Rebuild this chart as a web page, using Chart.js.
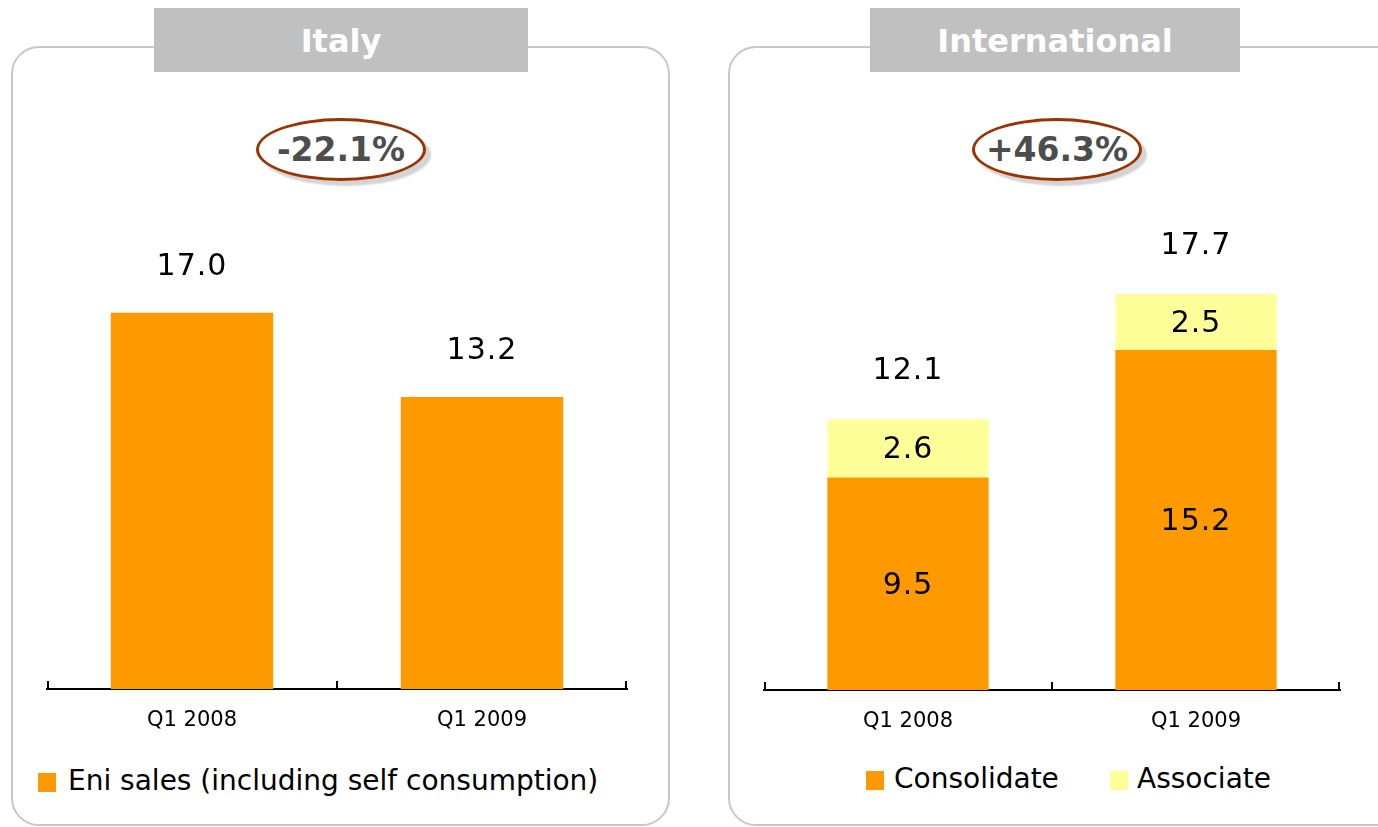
<!DOCTYPE html>
<html>
<head>
<meta charset="utf-8">
<title>Gas sales Q1</title>
<script src="https://cdn.jsdelivr.net/npm/chart.js@4/dist/chart.umd.min.js"></script>
<style>
    body { margin: 0; width: 1378px; height: 827px; overflow: hidden; background: #fff; font-family: "DejaVu Sans", sans-serif; position: relative; }
    .panel { position: absolute; border: 2px solid #c8c8c8; border-radius: 28px; box-sizing: border-box; }
    .title { position: absolute; top: 8px; height: 64px; background: #c0c0c0; color: #fff; font-weight: bold; font-size: 32px; line-height: 66px; text-align: center; }
    .change { position: absolute; top: 118px; width: 170px; height: 63px; border: 3px solid #993300; border-radius: 50%; box-sizing: border-box; background: #fff; box-shadow: 5px 5px 2px #d4d4d4; color: #4d4d4d; font-weight: bold; font-size: 33px; line-height: 58px; text-align: center; }
    .key { position: absolute; font-size: 28px; color: #000; white-space: nowrap; line-height: 34px; }
    .swatch { position: absolute; width: 18px; height: 19px; }
    canvas { position: absolute; top: 200px; }
</style>
</head>
<body>
<div class="panel" style="left:11px; top:46px; width:659px; height:780px;"></div>
<div class="panel" style="left:728px; top:46px; width:700px; height:780px;"></div>

<div class="title" style="left:154px; width:374px;">Italy</div>
<div class="title" style="left:870px; width:370px;">International</div>

<div class="change" id="italyChange" style="left:256px;"></div>
<div class="change" id="intlChange" style="left:972px;"></div>

<canvas id="italyChart" width="584" height="539" style="left:45px;"></canvas>
<canvas id="intlChart" width="580" height="540" style="left:762px;"></canvas>

<div class="swatch" style="left:38px; top:773px; background:#FF9900;"></div>
<div class="key" style="left:68px; top:764px;">Eni sales (including self consumption)</div>
<div class="swatch" style="left:866px; top:771px; background:#FF9900;"></div>
<div class="key" style="left:894px; top:762px;">Consolidate</div>
<div class="swatch" style="left:1110px; top:771px; background:#FFFF99;"></div>
<div class="key" style="left:1137px; top:762px;">Associate</div>

<script>
const quarters = ["Q1 2008", "Q1 2009"];
const italySales = [17.0, 13.2];
const intlConsolidate = [9.5, 15.2];
const intlAssociate = [2.6, 2.5];
const italyChange = "-22.1%";
const intlChange = "+46.3%";

const ORANGE = "#FF9900";
const YELLOW = "#FFFF99";

document.getElementById("italyChange").textContent = italyChange;
document.getElementById("intlChange").textContent = intlChange;

// small upward tick marks at the category edges of the x axis
const axisTicks = {
    id: "axisTicks",
    afterDraw(chart) {
        const x = chart.scales.x;
        const ctx = chart.ctx;
        const y = chart.chartArea.bottom;
        const mid = (x.getPixelForTick(0) + x.getPixelForTick(1)) / 2;
        ctx.save();
        ctx.strokeStyle = "#000";
        ctx.lineWidth = 2;
        [x.left + 1, mid, x.right - 1].forEach((px) => {
            ctx.beginPath();
            ctx.moveTo(px, y);
            ctx.lineTo(px, y - 8);
            ctx.stroke();
        });
        ctx.restore();
    },
};

// values inside the segments and the totals above each bar
const valueLabels = {
    id: "valueLabels",
    afterDatasetsDraw(chart, args, opts) {
        const ctx = chart.ctx;
        const n = chart.data.datasets.length;
        ctx.save();
        ctx.font = "30px 'DejaVu Sans'";
        ctx.letterSpacing = "1px";
        ctx.fillStyle = "#000";
        ctx.textAlign = "center";
        ctx.textBaseline = "middle";
        chart.data.labels.forEach((lbl, i) => {
            let total = 0;
            let top = null;
            chart.data.datasets.forEach((ds, d) => {
                const bar = chart.getDatasetMeta(d).data[i];
                total += ds.data[i];
                top = bar.y;
                if (opts.inside) {
                    ctx.fillText(ds.data[i].toFixed(1), bar.x, (bar.y + bar.base) / 2 + 2);
                }
            });
            const x = chart.getDatasetMeta(n - 1).data[i].x;
            ctx.fillText(total.toFixed(1), x, top - opts.gap);
        });
        ctx.restore();
    },
};

function xAxis() {
    return {
        grid: { display: false, drawTicks: false },
        border: { display: true, color: "#000", width: 2 },
        ticks: { color: "#000", font: { family: "DejaVu Sans", size: 21 }, padding: 19 },
        afterFit: (scale) => { scale.height = 50; },
    };
}

new Chart(document.getElementById("italyChart").getContext("2d"), {
    type: "bar",
    data: {
        labels: quarters,
        datasets: [
            {
                label: "Eni sales (including self consumption)",
                data: italySales,
                backgroundColor: ORANGE,
                borderWidth: 0,
                barPercentage: 0.56,
                categoryPercentage: 1,
            },
        ],
    },
    options: {
        responsive: false,
        animation: false,
        layout: { padding: { left: 2, right: 2, top: 0, bottom: 0 } },
        plugins: {
            legend: { display: false },
            tooltip: { enabled: false },
            valueLabels: { inside: false, gap: 46 },
        },
        scales: {
            x: xAxis(),
            y: { display: false, min: 0, max: 22.1 },
        },
    },
    plugins: [axisTicks, valueLabels],
});

new Chart(document.getElementById("intlChart").getContext("2d"), {
    type: "bar",
    data: {
        labels: quarters,
        datasets: [
            {
                label: "Consolidate",
                data: intlConsolidate,
                backgroundColor: ORANGE,
                borderWidth: 0,
                barPercentage: 0.56,
                categoryPercentage: 1,
            },
            {
                label: "Associate",
                data: intlAssociate,
                backgroundColor: YELLOW,
                borderWidth: 0,
                barPercentage: 0.56,
                categoryPercentage: 1,
            },
        ],
    },
    options: {
        responsive: false,
        animation: false,
        layout: { padding: { left: 2, right: 2, top: 0, bottom: 0 } },
        plugins: {
            legend: { display: false },
            tooltip: { enabled: false },
            valueLabels: { inside: true, gap: 48 },
        },
        scales: {
            x: Object.assign(xAxis(), { stacked: true }),
            y: { display: false, stacked: true, min: 0, max: 21.9 },
        },
    },
    plugins: [axisTicks, valueLabels],
});
</script>
</body>
</html>
